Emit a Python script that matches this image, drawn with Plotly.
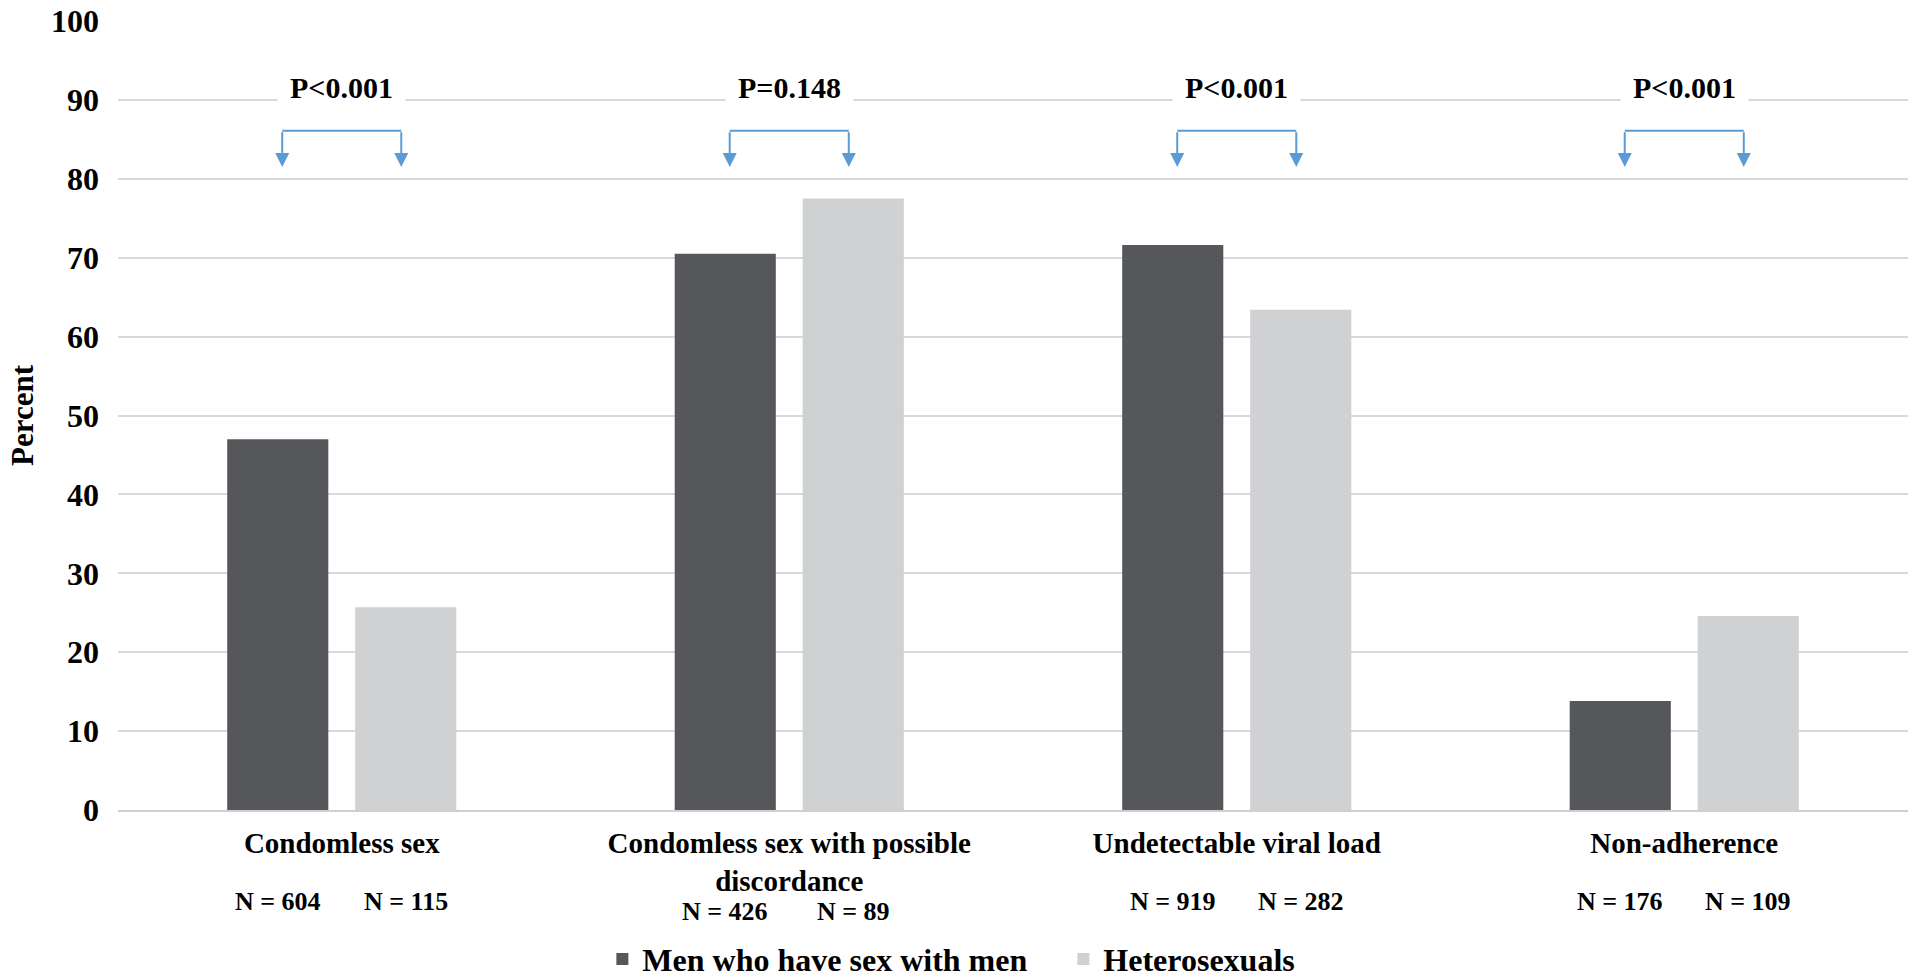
import plotly.graph_objects as go

categories = ["Condomless sex", "Condomless sex with possible discordance",
              "Undetectable viral load", "Non-adherence"]
tick_labels = ["Condomless sex", "Condomless sex with possible<br>discordance",
               "Undetectable viral load", "Non-adherence"]
msm_pct = [47.0, 70.5, 71.6, 13.8]
het_pct = [25.7, 77.5, 63.4, 24.6]
msm_n = [604, 426, 919, 176]
het_n = [115, 89, 282, 109]
p_values = ["P<0.001", "P=0.148", "P<0.001", "P<0.001"]
series_names = ["Men who have sex with men", "Heterosexuals"]

FONT = "Liberation Serif"
DARK = "#56575a"
LIGHT = "#d0d1d3"
BLUE = "#5b9bd5"
GRID = "#d9d9d9"

fig = go.Figure()
fig.add_trace(go.Bar(x=categories, y=msm_pct, name=series_names[0],
                     marker=dict(color=DARK, line=dict(width=0))))
fig.add_trace(go.Bar(x=categories, y=het_pct, name=series_names[1],
                     marker=dict(color=LIGHT, line=dict(width=0))))

bargap = 0.428
bargroupgap = 0.21
bar_off = (1 - bargap) / 4
half_br = 0.133
br_top = 86.1
br_tip = 81.5

shapes = []
annotations = []
for i, cat in enumerate(categories):
    # p-value label
    annotations.append(dict(x=i, y=91.6, xref="x", yref="y", text=p_values[i],
                            showarrow=False, bgcolor="white", borderpad=12,
                            font=dict(family=FONT, size=30, color="black", weight="bold")))
    # bracket
    shapes.append(dict(type="line", xref="x", yref="y", x0=i - half_br, x1=i + half_br,
                       y0=br_top, y1=br_top, line=dict(color=BLUE, width=2)))
    for s in (-1, 1):
        annotations.append(dict(x=i + s * half_br, y=br_tip, xref="x", yref="y",
                                ax=i + s * half_br, ay=br_top, axref="x", ayref="y",
                                text="", showarrow=True, arrowhead=2, arrowsize=1.4,
                                arrowwidth=2, arrowcolor=BLUE))
    # N labels
    shift = -101 if "<br>" in tick_labels[i] else -91
    for s, n in ((-1, msm_n[i]), (1, het_n[i])):
        annotations.append(dict(x=i + s * bar_off, y=0, xref="x", yref="y", yshift=shift,
                                text=f"N = {n}", showarrow=False, yanchor="middle",
                                font=dict(family=FONT, size=26, color="black", weight="bold")))

fig.update_layout(
    width=1920, height=978,
    margin=dict(l=118, r=12, t=21, b=168, autoexpand=False),
    paper_bgcolor="white", plot_bgcolor="white",
    barmode="group", bargap=bargap, bargroupgap=bargroupgap,
    shapes=shapes, annotations=annotations,
    legend=dict(orientation="h", x=0.2706, xanchor="left", y=-0.189, yanchor="middle",
                entrywidth=416,
                font=dict(family=FONT, size=32, color="black", weight="bold"),
                bgcolor="rgba(0,0,0,0)"),
    xaxis=dict(tickmode="array", tickvals=categories, ticktext=tick_labels,
               showgrid=False, showline=True, linecolor="#cfcfcf", linewidth=2,
               ticks="", ticklabelstandoff=6, automargin=False,
               tickfont=dict(family=FONT, size=29, color="black", weight="bold")),
    yaxis=dict(range=[0, 100], dtick=10, showgrid=True, gridcolor=GRID, gridwidth=2,
               zeroline=False, showline=False, ticks="", ticklabelstandoff=18,
               automargin=False,
               tickfont=dict(family=FONT, size=32, color="black", weight="bold"),
               title=dict(text="Percent", standoff=8,
                          font=dict(family=FONT, size=31, color="black", weight="bold"))),
)

fig.write_html("out.html", config={"displayModeBar": False},
               post_script="document.body.style.margin='0';")
